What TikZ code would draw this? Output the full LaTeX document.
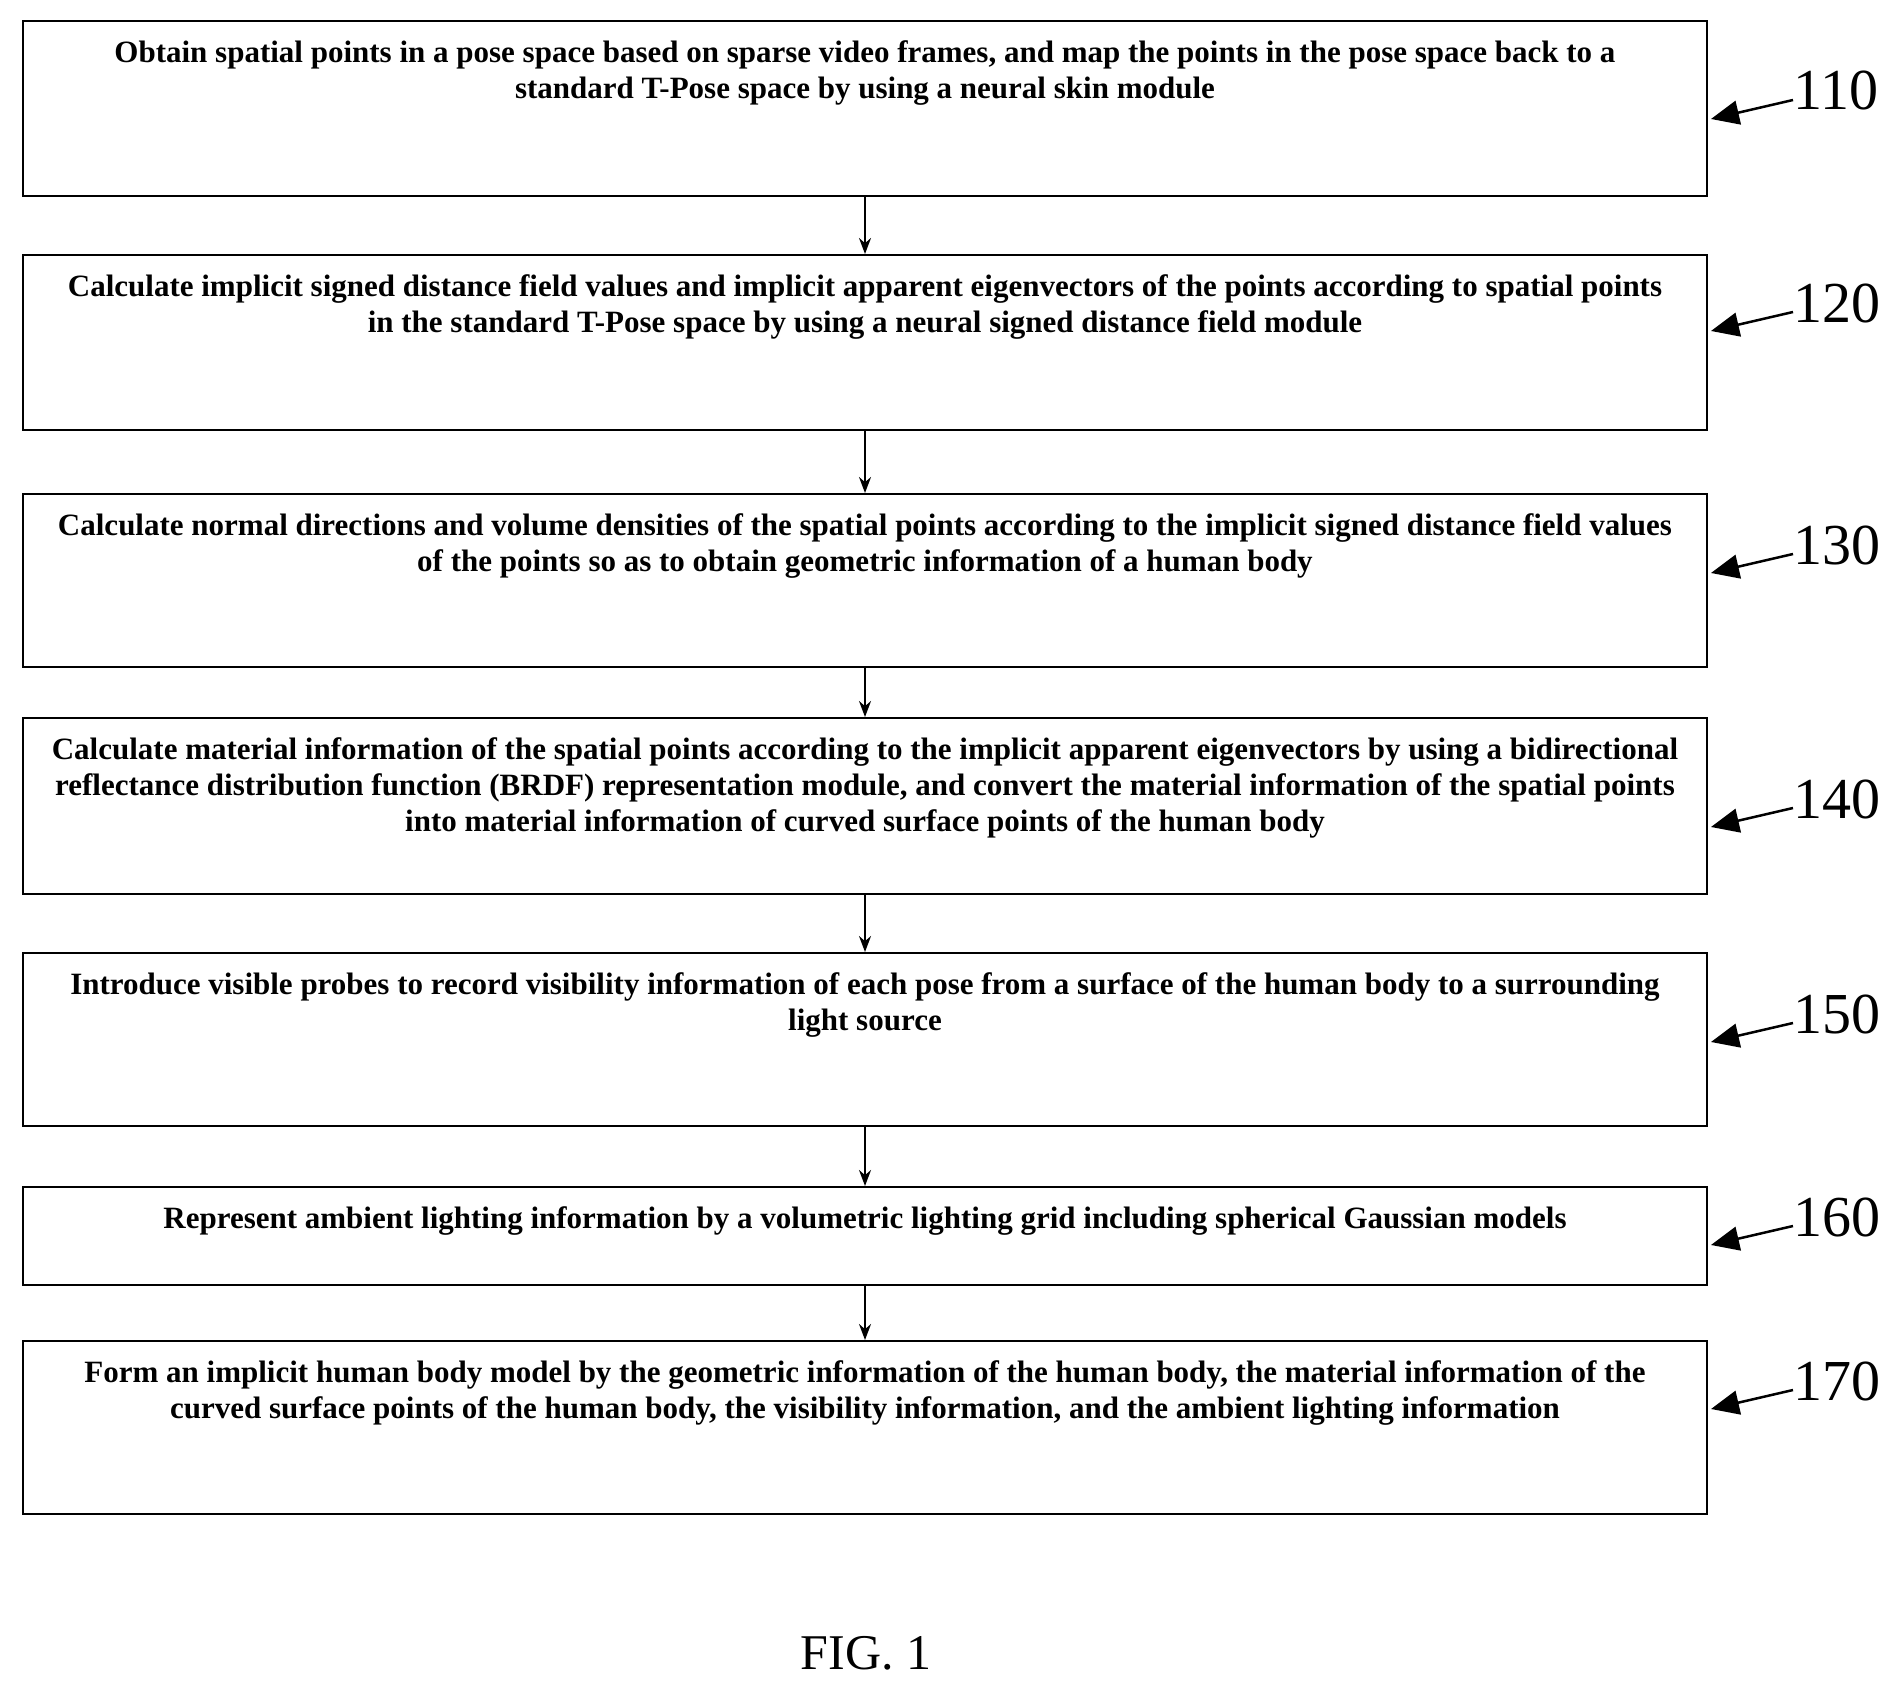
\documentclass[tikz,border=0pt]{standalone}
\usepackage{fontspec}
\setmainfont{Liberation Serif}
\usetikzlibrary{arrows.meta}
\begin{document}
\begin{tikzpicture}[x=1pt,y=-1pt,
  box/.style={draw,line width=2pt,minimum width=1684pt,inner sep=0pt},
  txt/.style={anchor=north,align=center,inner sep=0pt,font=\bfseries\fontsize{31}{36}\selectfont},
  num/.style={anchor=west,inner sep=0pt,font=\fontsize{58}{60}\selectfont},
  flow/.style={-{Stealth[length=16pt,width=12pt]},line width=2pt},
  tag/.style={-{Triangle[length=28pt,width=24pt]},line width=2.5pt}]
  \useasboundingbox (0,0) rectangle (1899,1693);

  % boxes
  \node[box,minimum height=175pt] (b110) at (865,108.5) {};
  \node[box,minimum height=175pt] (b120) at (865,342.5) {};
  \node[box,minimum height=173pt] (b130) at (865,580.5) {};
  \node[box,minimum height=176pt] (b140) at (865,806) {};
  \node[box,minimum height=173pt] (b150) at (865,1039.5) {};
  \node[box,minimum height=98pt] (b160) at (865,1236) {};
  \node[box,minimum height=173pt] (b170) at (865,1427.5) {};

  % texts
  \node[txt] (t110) at ([yshift=-20pt]b110.north) {Obtain spatial points in a pose space based on sparse video frames, and map the points in the pose space back to a\\standard T-Pose space by using a neural skin module};
  \node[txt] (t120) at ([yshift=-20pt]b120.north) {Calculate implicit signed distance field values and implicit apparent eigenvectors of the points according to spatial points\\in the standard T-Pose space by using a neural signed distance field module};
  \node[txt] (t130) at ([yshift=-20pt]b130.north) {Calculate normal directions and volume densities of the spatial points according to the implicit signed distance field values\\of the points so as to obtain geometric information of a human body};
  \node[txt] (t140) at ([yshift=-20pt]b140.north) {Calculate material information of the spatial points according to the implicit apparent eigenvectors by using a bidirectional\\reflectance distribution function (BRDF) representation module, and convert the material information of the spatial points\\into material information of curved surface points of the human body};
  \node[txt] (t150) at ([yshift=-20pt]b150.north) {Introduce visible probes to record visibility information of each pose from a surface of the human body to a surrounding\\light source};
  \node[txt] (t160) at ([yshift=-20pt]b160.north) {Represent ambient lighting information by a volumetric lighting grid including spherical Gaussian models};
  \node[txt] (t170) at ([yshift=-20pt]b170.north) {Form an implicit human body model by the geometric information of the human body, the material information of the\\curved surface points of the human body, the visibility information, and the ambient lighting information};

  % flow arrows
  \draw[flow] (b110) -- (b120);
  \draw[flow] (b120) -- (b130);
  \draw[flow] (b130) -- (b140);
  \draw[flow] (b140) -- (b150);
  \draw[flow] (b150) -- (b160);
  \draw[flow] (b160) -- (b170);

  % step numbers
  \foreach \n/\y in {110/91,120/303,130/545,140/799,150/1014,160/1217,170/1381}{
    \node[num] (n\n) at (1793,\y) {\n};
    \coordinate (e\n) at (1711,\y+28);
    \draw[tag] ([yshift=-9pt]n\n.west) -- (e\n);
  }

  \node[font=\fontsize{50}{56}\selectfont] (fig) at (866,1653) {FIG. 1};
\end{tikzpicture}
\end{document}
